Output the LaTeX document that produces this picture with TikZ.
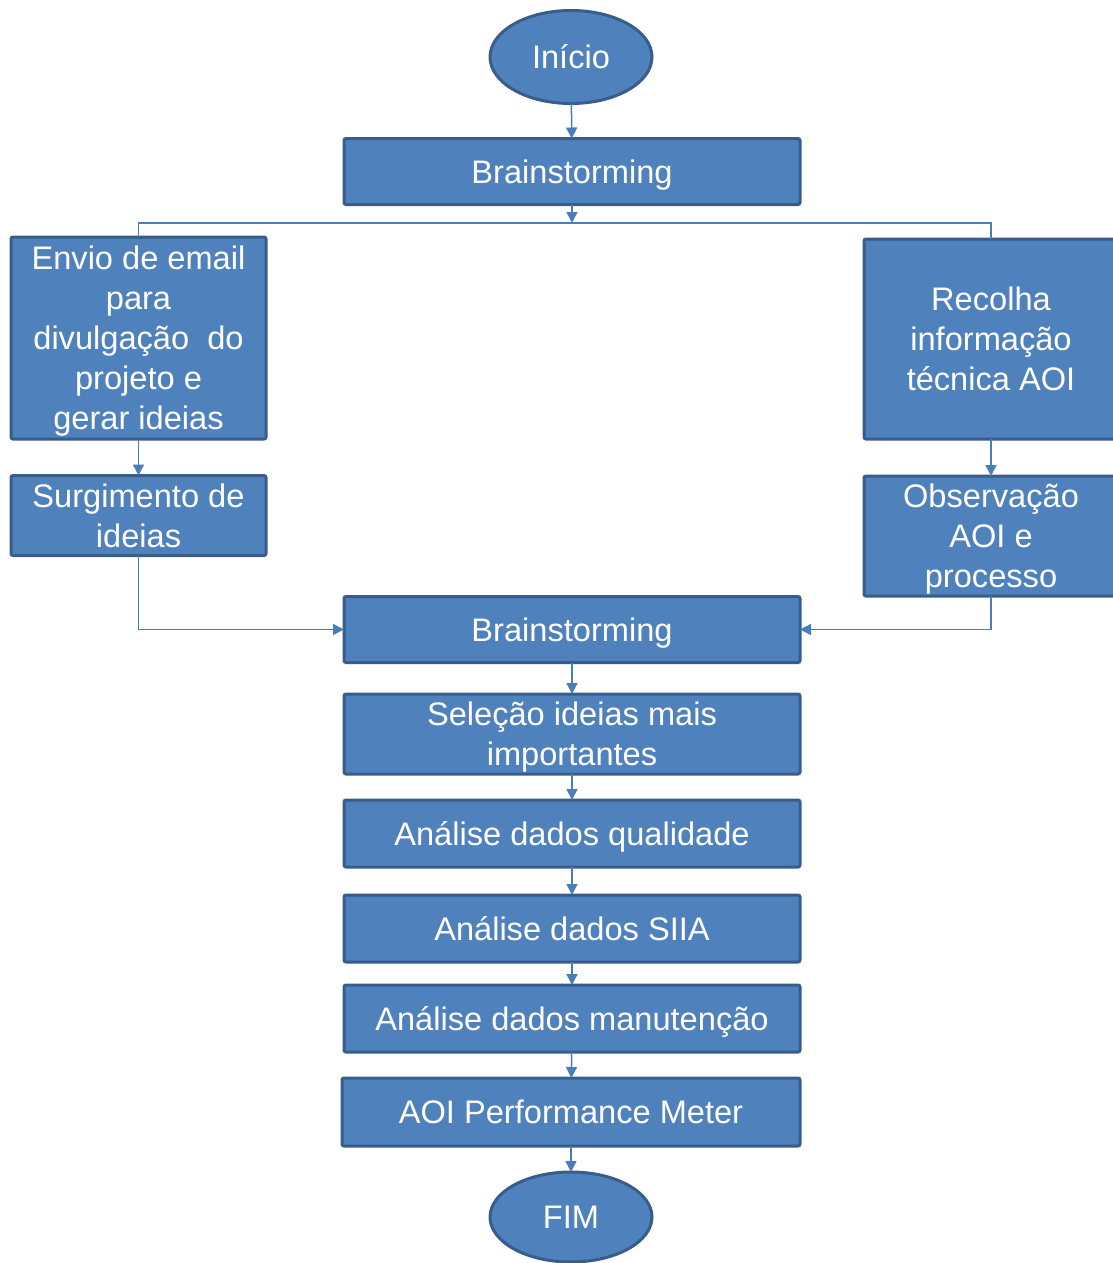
\documentclass[tikz,border=0pt]{standalone}
\usepackage{fontspec}
\setmainfont{Liberation Sans}
\usetikzlibrary{arrows.meta,shapes.geometric}

\definecolor{boxfill}{HTML}{4F81BD}
\definecolor{boxline}{HTML}{385D8A}
\definecolor{wire}{HTML}{4A7EBB}

\tikzset{
  stepbox/.style={draw=boxline, fill=boxfill, line width=3pt, rounded corners=2pt,
    text=white, align=center, inner sep=0pt, outer sep=0pt, text depth=0pt,
    font=\fontsize{32.6}{40}\selectfont},
  terminal/.style={ellipse, draw=boxline, fill=boxfill, line width=3pt,
    text=white, inner sep=0pt, outer sep=0pt,
    font=\fontsize{32.6}{40}\selectfont},
  wireline/.style={draw=wire, line width=1.5pt},
  flow/.style={wireline, -{Triangle[length=11pt,width=11pt]}}
}

\begin{document}
\begin{tikzpicture}[x=1pt,y=-1pt]
\useasboundingbox (0,0) rectangle (1112,1263);

% start and end terminals
\node[terminal, minimum width=162pt, minimum height=93pt] (ini) at (571,57) {Início};
\node[terminal, minimum width=162pt, minimum height=90pt] (fim) at (571,1217) {FIM};

% first brainstorming
\node[stepbox, minimum width=456pt, minimum height=66pt] (bs1) at (572,171.5) {Brainstorming};
\coordinate (split) at (572,223);

% left branch
\node[stepbox, minimum width=255pt, minimum height=202pt] (envio) at (138.5,338) {Envio de email\\para\\divulgação~ do\\projeto e\\gerar ideias};
\node[stepbox, minimum width=255pt, minimum height=80pt] (surg) at (138.5,515.5) {Surgimento de\\ideias};

% right branch
\node[stepbox, minimum width=254pt, minimum height=200pt] (recolha) at (991,339) {Recolha\\informação\\técnica AOI};
\node[stepbox, minimum width=254pt, minimum height=120pt] (obs) at (991,536) {Observação\\AOI e\\processo};

% main column
\node[stepbox, minimum width=456pt, minimum height=66pt] (bs2) at (572,629.5) {Brainstorming};
\node[stepbox, minimum width=456pt, minimum height=80pt] (sel) at (572,734) {Seleção ideias mais\\importantes};
\node[stepbox, minimum width=456pt, minimum height=67pt] (qual) at (572,833.5) {Análise dados qualidade};
\node[stepbox, minimum width=456pt, minimum height=67pt] (siia) at (572,928.5) {Análise dados SIIA};
\node[stepbox, minimum width=456pt, minimum height=67pt] (manut) at (572,1018.5) {Análise dados manutenção};
\node[stepbox, minimum width=458pt, minimum height=68pt] (aoipm) at (571,1112) {AOI Performance Meter};

% connectors
\draw[flow] (ini) -- (bs1);
\draw[flow] (bs1) -- (split);
\draw[wireline] (envio.north) |- (split) -| (recolha.north);
\draw[flow] (envio) -- (surg);
\draw[flow] (recolha) -- (obs);
\draw[flow] (surg.south) |- (bs2.west);
\draw[flow] (obs.south) |- (bs2.east);
\draw[flow] (bs2) -- (sel);
\draw[flow] (sel) -- (qual);
\draw[flow] (qual) -- (siia);
\draw[flow] (siia) -- (manut);
\draw[flow] (manut) -- (aoipm);
\draw[flow] (aoipm) -- (fim);
\end{tikzpicture}
\end{document}
